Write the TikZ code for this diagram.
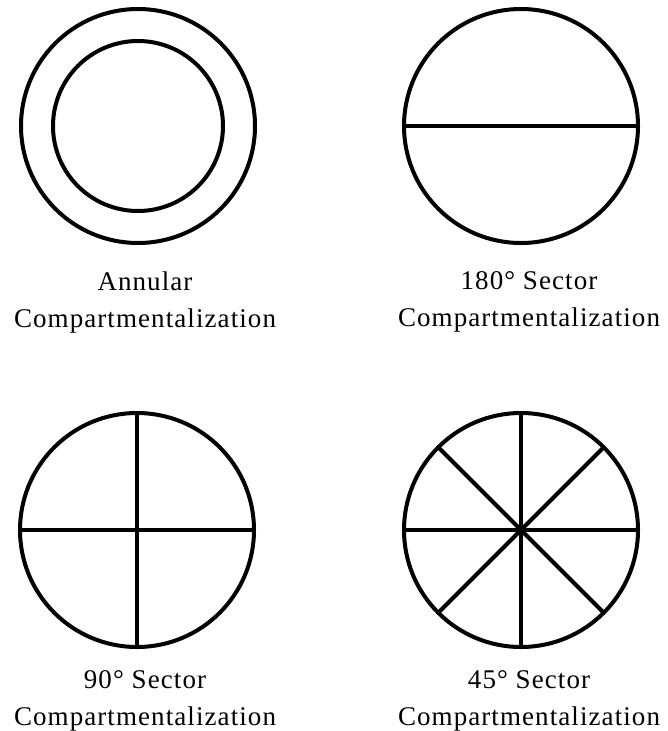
\documentclass[tikz,border=0pt]{standalone}
\usepackage{fontspec}
\setmainfont{Liberation Serif}
\begin{document}
\begin{tikzpicture}[x=1pt, y=-1pt, line width=4pt, line join=round, line cap=round,
	lbl/.style={align=center, inner sep=0pt, anchor=north, font=\fontsize{27}{37}\selectfont\addfontfeature{LetterSpace=4}}]
	\useasboundingbox (0,0) rectangle (668,731);
	\def\Rad{117}
	\def\RadIn{85}
	% Annular
	\coordinate (cA) at (138,126);
	\draw (cA) circle (\Rad);
	\draw (cA) circle (\RadIn);
	\node[lbl] (lblA) at (145,270) {Annular\\Compartmentalization};
	% 180
	\coordinate (cB) at (521,126);
	\draw (cB) circle (\Rad);
	\draw ([xshift=-\Rad pt]cB) -- ([xshift=\Rad pt]cB);
	\node[lbl] (lblB) at (529,270) {180° Sector\\Compartmentalization};
	% 90
	\coordinate (cC) at (137,530);
	\draw (cC) circle (\Rad);
	\foreach \a in {0,90}
		\draw (cC) ++(\a:\Rad) -- ++(\a+180:2*\Rad);
	\node[lbl] (lblC) at (145,669) {90° Sector\\Compartmentalization};
	% 45
	\coordinate (cD) at (521,530);
	\draw (cD) circle (\Rad);
	\foreach \a in {0,45,...,135}
		\draw (cD) ++(\a:\Rad) -- ++(\a+180:2*\Rad);
	\node[lbl] (lblD) at (529,669) {45° Sector\\Compartmentalization};
\end{tikzpicture}
\end{document}
